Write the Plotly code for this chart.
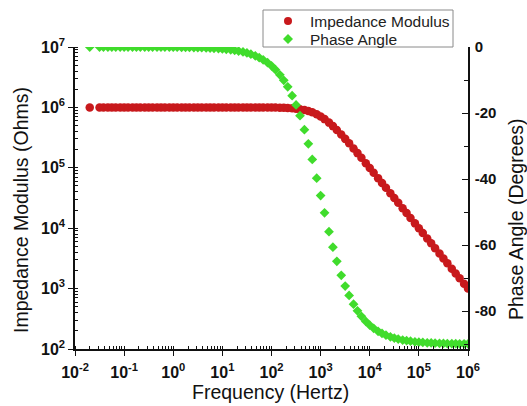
import plotly.graph_objects as go

# log10 of frequency (Hz)
log_freq = [
    -1.70, -1.50,
    -1.42, -1.33, -1.25, -1.17, -1.08,
    -1.00, -0.92, -0.83, -0.75, -0.67, -0.58, -0.50, -0.42, -0.33, -0.25, -0.17, -0.08,
    0.00, 0.08, 0.17, 0.25, 0.33, 0.42, 0.50, 0.58, 0.67, 0.75, 0.83, 0.92,
    1.00, 1.08, 1.17, 1.25, 1.33, 1.42, 1.50, 1.58, 1.67, 1.75, 1.83, 1.92,
    2.00, 2.08, 2.17, 2.25, 2.33, 2.42, 2.50, 2.58, 2.67, 2.75, 2.83, 2.92,
    3.00, 3.08, 3.17, 3.25, 3.33, 3.42, 3.50, 3.58, 3.67, 3.75, 3.83, 3.92,
    4.00, 4.08, 4.17, 4.25, 4.33, 4.42, 4.50, 4.58, 4.67, 4.75, 4.83, 4.92,
    5.00, 5.08, 5.17, 5.25, 5.33, 5.42, 5.50, 5.58, 5.67, 5.75, 5.83, 5.92,
    6.00,
]

# log10 of impedance modulus (Ohms)
log_modulus = [
    6.00, 6.00,
    6.00, 6.00, 6.00, 6.00, 6.00,
    6.00, 6.00, 6.00, 6.00, 6.00, 6.00, 6.00, 6.00, 6.00, 6.00, 6.00, 6.00,
    6.00, 6.00, 6.00, 6.00, 6.00, 6.00, 6.00, 6.00, 6.00, 6.00, 6.00, 6.00,
    6.00, 6.00, 6.00, 6.00, 6.00, 6.00, 6.00, 6.00, 6.00, 6.00, 6.00, 5.998,
    5.998, 5.997, 5.995, 5.993, 5.990, 5.986, 5.979, 5.971, 5.957, 5.940, 5.918, 5.886,
    5.850, 5.806, 5.748, 5.690, 5.627, 5.551, 5.479, 5.406, 5.320, 5.243, 5.165, 5.077,
    4.998, 4.918, 4.829, 4.749, 4.670, 4.580, 4.500, 4.420, 4.330, 4.250, 4.170, 4.080,
    4.000, 3.920, 3.830, 3.750, 3.670, 3.580, 3.500, 3.420, 3.330, 3.250, 3.170, 3.080,
    3.000,
]

# phase angle (degrees)
phase = [
    0.0, 0.0,
    0.0, 0.0, 0.0, 0.0, 0.0,
    0.0, 0.0, 0.0, 0.0, 0.0, 0.0, 0.0, 0.0, 0.0, 0.0, 0.0, 0.0,
    -0.06, -0.07, -0.08, -0.10, -0.12, -0.15, -0.18, -0.22, -0.27, -0.32, -0.39, -0.47,
    -0.57, -0.69, -0.85, -1.02, -1.23, -1.51, -1.81, -2.18, -2.68, -3.22, -3.87, -4.76,
    -5.71, -6.86, -8.41, -10.08, -12.07, -14.74, -17.55, -20.82, -25.07, -29.35, -34.06, -39.75,
    -45.0, -50.25, -55.94, -60.65, -64.93, -69.18, -72.45, -75.26, -77.93, -79.92, -81.59, -83.14,
    -84.29, -85.24, -86.13, -86.78, -87.32, -87.82, -88.19, -88.49, -88.78, -88.98, -89.15, -89.31,
    -89.43, -89.52, -89.61, -89.68, -89.73, -89.78, -89.82, -89.85, -89.88, -89.90, -89.92, -89.93,
    -89.94,
]

series_names = ["Impedance Modulus", "Phase Angle"]

x_tick_vals = [1e-2, 1e-1, 1e0, 1e1, 1e2, 1e3, 1e4, 1e5, 1e6]
x_tick_text = ["10<sup>-2</sup>", "10<sup>-1</sup>", "10<sup>0</sup>", "10<sup>1</sup>",
               "10<sup>2</sup>", "10<sup>3</sup>", "10<sup>4</sup>", "10<sup>5</sup>",
               "10<sup>6</sup>"]
y_tick_vals = [1e2, 1e3, 1e4, 1e5, 1e6, 1e7]
y_tick_text = ["10<sup>2</sup>", "10<sup>3</sup>", "10<sup>4</sup>", "10<sup>5</sup>",
               "10<sup>6</sup>", "10<sup>7</sup>"]
y2_tick_vals = [0, -20, -40, -60, -80]
y2_tick_text = ["0", "-20", "-40", "-60", "-80"]

x_title = "Frequency (Hertz)"
y_title = "Impedance Modulus (Ohms)"
y2_title = "Phase Angle (Degrees)"

freq = [10 ** v for v in log_freq]
modulus = [10 ** v for v in log_modulus]

RED = "#C8191C"
GREEN = "#40DC2C"
FONT = "Liberation Sans, Arial, sans-serif"

fig = go.Figure()
fig.add_trace(go.Scatter(
    x=freq, y=modulus, mode="markers", name=series_names[0],
    marker=dict(symbol="circle", size=8.5, color=RED),
    yaxis="y", showlegend=False,
))
fig.add_trace(go.Scatter(
    x=freq, y=phase, mode="markers", name=series_names[1],
    marker=dict(symbol="diamond", size=7.5, color=GREEN),
    yaxis="y2", showlegend=False,
))

axis_common = dict(
    showgrid=False, zeroline=False, showline=True, linecolor="#111111", linewidth=1.5,
    tickcolor="#111111", tickwidth=1.2,
)

# plot area in pixels: x 75..468, y 47..349
L, R, T, B = 75, 468, 47, 349
W, H = R - L, B - T


def px(xp):
    return (xp - L) / W


def py(yp):
    return (B - yp) / H


shapes = [
    # legend box
    dict(type="rect", xref="paper", yref="paper",
         x0=px(263), x1=px(453), y0=py(47), y1=py(10),
         line=dict(color="#8a8a8a", width=1), fillcolor="white", layer="above"),
    # legend markers
    dict(type="circle", xref="paper", yref="paper",
         xsizemode="pixel", ysizemode="pixel",
         xanchor=px(288), yanchor=py(21),
         x0=-4, x1=4, y0=-4, y1=4,
         fillcolor=RED, line=dict(width=0), layer="above"),
    dict(type="path", xref="paper", yref="paper",
         xsizemode="pixel", ysizemode="pixel",
         xanchor=px(288), yanchor=py(39),
         path="M 0,5 L 5,0 L 0,-5 L -5,0 Z",
         fillcolor=GREEN, line=dict(width=0), layer="above"),
]

annotations = [
    dict(text=series_names[0], xref="paper", yref="paper", x=px(308), y=py(21),
         xanchor="left", yanchor="middle", showarrow=False,
         font=dict(size=15.5, color="#222222")),
    dict(text=series_names[1], xref="paper", yref="paper", x=px(308), y=py(39),
         xanchor="left", yanchor="middle", showarrow=False,
         font=dict(size=15.5, color="#222222")),
    dict(text=x_title, xref="paper", yref="paper", x=px(270), y=py(392),
         xanchor="center", yanchor="middle", showarrow=False,
         font=dict(size=19.5, color="#111111")),
    dict(text=y_title, xref="paper", yref="paper", x=px(21), y=py(210),
         xanchor="center", yanchor="middle", showarrow=False, textangle=-90,
         font=dict(size=19.5, color="#111111")),
    dict(text=y2_title, xref="paper", yref="paper", x=px(516), y=py(219),
         xanchor="center", yanchor="middle", showarrow=False, textangle=-90,
         font=dict(size=19.5, color="#111111")),
]

fig.update_layout(
    width=527, height=406,
    margin=dict(l=L, r=527 - R, t=T, b=406 - B),
    paper_bgcolor="white", plot_bgcolor="white",
    font=dict(family=FONT, color="#111111"),
    showlegend=False,
    shapes=shapes,
    annotations=annotations,
    xaxis=dict(
        type="log", range=[-2, 6],
        tickmode="array", tickvals=x_tick_vals,
        ticktext=["<b>" + t + "</b>" for t in x_tick_text],
        ticks="outside", ticklen=5, ticklabelstandoff=3,
        minor=dict(ticks="inside", ticklen=3, dtick="D1", tickcolor="#111111"),
        tickfont=dict(size=16),
        **axis_common,
    ),
    yaxis=dict(
        type="log", range=[2, 7],
        tickmode="array", tickvals=y_tick_vals,
        ticktext=["<b>" + t + "</b>" for t in y_tick_text],
        ticks="outside", ticklen=5,
        minor=dict(ticks="inside", ticklen=3, dtick="D1", tickcolor="#111111"),
        tickfont=dict(size=16),
        **axis_common,
    ),
    yaxis2=dict(
        overlaying="y", side="right", range=[-91.5, 0],
        tickmode="array", tickvals=y2_tick_vals,
        ticktext=["<b>" + t + "</b>" for t in y2_tick_text],
        ticks="inside", ticklen=6, ticklabelstandoff=2,
        minor=dict(ticks="inside", ticklen=4, dtick=10, tickcolor="#111111"),
        tickfont=dict(size=15),
        **axis_common,
    ),
)

fig.write_html("out.html")
